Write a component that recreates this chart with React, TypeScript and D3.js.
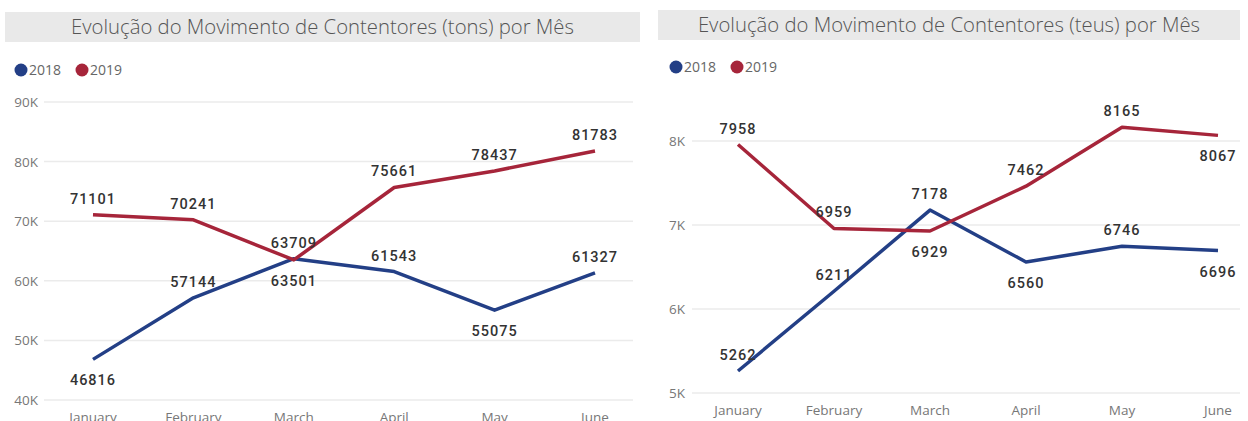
import { useEffect, useRef } from "react";
import * as d3 from "d3";

const months = ["January", "February", "March", "April", "May", "June"];
const years = ["2018", "2019"];

const tons2018 = [46816, 57144, 63709, 61543, 55075, 61327];
const tons2019 = [71101, 70241, 63501, 75661, 78437, 81783];
const teus2018 = [5262, 6211, 7178, 6560, 6746, 6696];
const teus2019 = [7958, 6959, 6929, 7462, 8165, 8067];

const tonsTicks = [40000, 50000, 60000, 70000, 80000, 90000];
const teusTicks = [5000, 6000, 7000, 8000];

const colors = ["#233f86", "#a6253a"];

const charts = [
  {
    title: "Evolução do Movimento de Contentores (tons) por Mês",
    series: [tons2018, tons2019],
    ticks: tonsTicks,
    // which side of the point each data label sits on
    sides: [
      ["below", "above", "above", "above", "below", "above"],
      ["above", "above", "below", "above", "above", "above"],
    ],
    band: [5, 12, 635, 30],
    legend: [21, 70],
    plotX: [44, 633],
    pointX: [93, 595],
    plotY: [400, 102],
    axisRight: 38,
    xLabelY: 422,
  },
  {
    title: "Evolução do Movimento de Contentores (teus) por Mês",
    series: [teus2018, teus2019],
    ticks: teusTicks,
    sides: [
      ["above", "above", "above", "below", "above", "below"],
      ["above", "above", "below", "above", "above", "below"],
    ],
    band: [658, 10, 582, 30],
    legend: [676, 67],
    plotX: [692, 1240],
    pointX: [738, 1218],
    plotY: [393, 141],
    axisRight: 685,
    xLabelY: 415,
  },
];

const App = () => {
  const ref = useRef<SVGSVGElement>(null);

  useEffect(() => {
    const svg = d3.select(ref.current);
    svg.selectAll("*").remove();

    charts.forEach((c) => {
      const g = svg.append("g");

      // title band
      g.append("rect")
        .attr("x", c.band[0])
        .attr("y", c.band[1])
        .attr("width", c.band[2])
        .attr("height", c.band[3])
        .attr("fill", "#e9e9e9");
      g.append("text")
        .attr("x", c.band[0] + c.band[2] / 2)
        .attr("y", c.band[1] + c.band[3] / 2 + 7)
        .attr("text-anchor", "middle")
        .style("font-family", "'Open Sans', sans-serif")
        .style("font-size", "20.3px")
        .style("font-weight", "300")
        .attr("fill", "#555")
        .text(c.title);

      // legend
      years.forEach((yr, i) => {
        const lx = c.legend[0] + i * 61;
        g.append("circle")
          .attr("cx", lx)
          .attr("cy", c.legend[1])
          .attr("r", 6.5)
          .attr("fill", colors[i]);
        g.append("text")
          .attr("x", lx + 8)
          .attr("y", c.legend[1] + 5)
          .style("font-family", "'Open Sans', sans-serif")
          .style("font-size", "14px")
          .attr("fill", "#666")
          .text(yr);
      });

      const x = d3.scalePoint().domain(months).range(c.pointX);
      const y = d3
        .scaleLinear()
        .domain([c.ticks[0], c.ticks[c.ticks.length - 1]])
        .range(c.plotY);

      // gridlines + y labels
      c.ticks.forEach((t) => {
        g.append("line")
          .attr("x1", c.plotX[0])
          .attr("x2", c.plotX[1])
          .attr("y1", y(t))
          .attr("y2", y(t))
          .attr("stroke", "#ebebeb")
          .attr("stroke-width", 1.5);
        g.append("text")
          .attr("x", c.axisRight)
          .attr("y", y(t) + 5)
          .attr("text-anchor", "end")
          .style("font-family", "'Open Sans', sans-serif")
          .style("font-size", "13.5px")
          .attr("fill", "#777")
          .text(d3.format("d")(t / 1000) + "K");
      });

      // x labels
      months.forEach((m) => {
        g.append("text")
          .attr("x", x(m))
          .attr("y", c.xLabelY)
          .attr("text-anchor", "middle")
          .style("font-family", "'Open Sans', sans-serif")
          .style("font-size", "13.5px")
          .attr("fill", "#777")
          .text(m);
      });

      const line = d3
        .line<number>()
        .x((_, i) => x(months[i]))
        .y((d) => y(d));

      c.series.forEach((s, si) => {
        g.append("path")
          .datum(s)
          .attr("fill", "none")
          .attr("stroke", colors[si])
          .attr("stroke-width", 3.5)
          .attr("stroke-linejoin", "round")
          .attr("d", line);
      });

      // data labels
      c.series.forEach((s, si) => {
        s.forEach((v, i) => {
          const below = c.sides[si][i] === "below";
          g.append("text")
            .attr("x", x(months[i]))
            .attr("y", y(v) + (below ? 26 : -11))
            .attr("text-anchor", "middle")
            .style("font-family", "Roboto, sans-serif")
            .style("font-size", "14.5px")
            .style("font-weight", "500")
            .style("letter-spacing", "1px")
            .attr("fill", "#333")
            .text(v);
        });
      });
    });
  }, []);

  return (
    <svg
      ref={ref}
      width={1248}
      height={421}
      style={{ position: "absolute", left: 0, top: 0, background: "#fff" }}
    />
  );
};

export default App;
